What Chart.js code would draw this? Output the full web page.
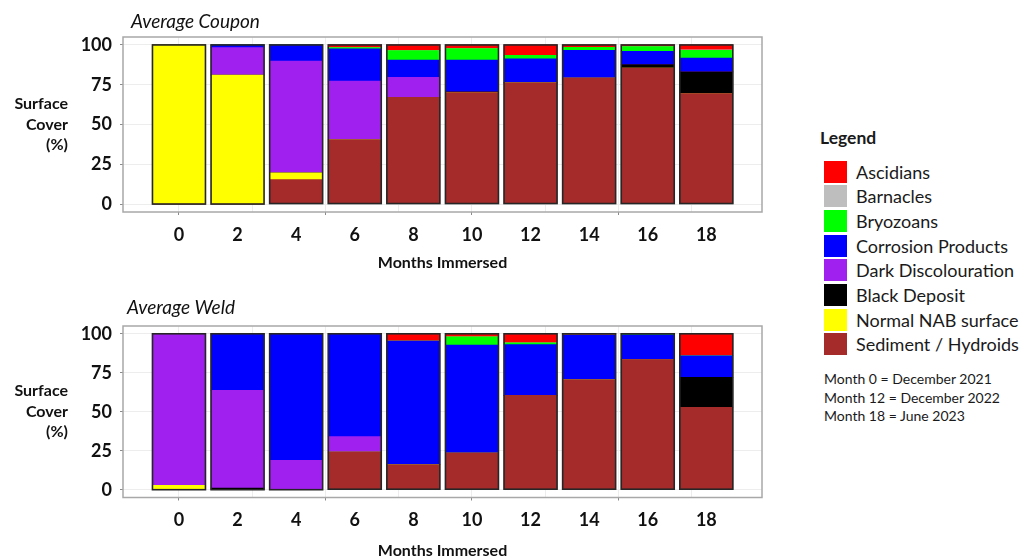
<!DOCTYPE html>
<html>
<head>
<meta charset="utf-8">
<title>Surface cover by months immersed</title>
<script src="https://cdn.jsdelivr.net/npm/chart.js@4.4.1/dist/chart.umd.min.js"></script>
<style>
  html, body { margin: 0; padding: 0; background: #fff; width: 1025px; height: 558px; overflow: hidden; }
  #wrap { position: relative; width: 1025px; height: 558px; font-family: Lato, "Open Sans", sans-serif; color: #1a1a1a; }
  canvas { position: absolute; left: 0; }
  #coupon { top: 0; }
  #weld { top: 280px; }
  .lg-title { position: absolute; left: 820px; top: 128px; font-size: 17.5px; font-weight: bold; line-height: 20px; }
  .lg-row { position: absolute; left: 824px; height: 22px; display: flex; align-items: center; }
  .lg-sw { width: 22.5px; height: 22px; display: inline-block; }
  .lg-lbl { margin-left: 9.5px; font-size: 18px; line-height: 22px; white-space: nowrap; }
  .lg-notes { position: absolute; left: 824px; top: 370px; font-size: 14px; line-height: 18.7px; white-space: nowrap; }
</style>
</head>
<body>
<div id="wrap">
  <canvas id="coupon" width="800" height="280"></canvas>
  <canvas id="weld" width="800" height="288"></canvas>
  <div id="legend"></div>
</div>
<script>
// Sampling months (x axis categories)
const months = [0, 2, 4, 6, 8, 10, 12, 14, 16, 18];

// Surface cover classes, in legend order (top of each column first)
const seriesNames = ['Ascidians', 'Barnacles', 'Bryozoans', 'Corrosion Products',
  'Dark Discolouration', 'Black Deposit', 'Normal NAB surface', 'Sediment / Hydroids'];
const seriesColors = ['#ff0000', '#bebebe', '#00ff00', '#0000ff',
  '#a020f0', '#000000', '#ffff00', '#a52a2a'];

// Y axis labelled ticks (percent cover)
const yTickLabels = [0, 25, 50, 75, 100];

const dateNotes = ['Month 0 = December 2021', 'Month 12 = December 2022', 'Month 18 = June 2023'];

// Average Coupon, % cover per month
const couponAscidians  = [0, 0, 0, 1.7, 3.6, 2.3, 6.5, 1.5, 1.1, 3.0];
const couponBarnacles  = [0, 0, 0, 0, 0, 0, 0, 0, 0, 0.4];
const couponBryozoans  = [0, 0, 0, 0.8, 5.9, 7.2, 2.2, 1.9, 2.9, 4.8];
const couponCorrosion  = [0, 1.7, 10.1, 20.2, 10.9, 20.0, 15.1, 17.4, 8.4, 8.7];
const couponDiscolour  = [0, 17.3, 70.3, 36.9, 12.6, 0, 0, 0, 0, 0];
const couponBlack      = [0, 0, 0, 0, 0, 0.5, 0, 0, 2.1, 13.6];
const couponNormal     = [100, 81, 4.3, 0, 0, 0, 0, 0, 0, 0];
const couponSediment   = [0, 0, 15.3, 40.4, 67, 70.0, 76.2, 79.2, 85.5, 69.5];

// Average Weld, % cover per month
const weldAscidians  = [0, 0, 0, 0, 4.7, 1.9, 5.8, 0.9, 0, 14.1];
const weldBarnacles  = [0, 0, 0, 0, 0, 0, 0, 0, 0, 0];
const weldBryozoans  = [0, 0, 0, 0, 0, 5.3, 1.1, 0, 0.7, 0];
const weldCorrosion  = [0, 36.3, 81.2, 66, 79.3, 69.3, 32.6, 28.6, 15.8, 13.9];
const weldDiscolour  = [97.2, 62.7, 18.8, 9.9, 0, 0, 0, 0, 0, 0];
const weldBlack      = [0, 1, 0, 0, 0, 0, 0, 0, 0, 19.2];
const weldNormal     = [2.8, 0, 0, 0, 0, 0, 0, 0, 0, 0];
const weldSediment   = [0, 0, 0, 24.1, 16, 23.5, 60.5, 70.5, 83.5, 52.8];

const couponSeries = [couponAscidians, couponBarnacles, couponBryozoans, couponCorrosion,
  couponDiscolour, couponBlack, couponNormal, couponSediment];
const weldSeries = [weldAscidians, weldBarnacles, weldBryozoans, weldCorrosion,
  weldDiscolour, weldBlack, weldNormal, weldSediment];

Chart.defaults.font.family = 'Lato, "Open Sans", sans-serif';
Chart.defaults.color = '#111';

// Frame, column outlines, panel caption and the horizontal y-axis title
const panelDecor = {
  id: 'panelDecor',
  beforeDatasetsDraw(chart) {
    const { ctx, chartArea: a } = chart;
    ctx.save();
    ctx.strokeStyle = '#a8a8a8';
    ctx.lineWidth = 1.5;
    ctx.strokeRect(a.left, a.top, a.right - a.left, a.bottom - a.top);
    ctx.restore();
  },
  afterDatasetsDraw(chart) {
    const { ctx } = chart;
    const metas = chart.getSortedVisibleDatasetMetas();
    ctx.save();
    ctx.strokeStyle = '#262626';
    ctx.lineWidth = 1.6;
    for (let i = 0; i < months.length; i++) {
      let left = Infinity, right = -Infinity, top = Infinity, bottom = -Infinity;
      metas.forEach(meta => {
        const el = meta.data[i];
        if (!el) return;
        const p = el.getProps(['x', 'y', 'base', 'width'], true);
        left = Math.min(left, p.x - p.width / 2);
        right = Math.max(right, p.x + p.width / 2);
        top = Math.min(top, p.y, p.base);
        bottom = Math.max(bottom, p.y, p.base);
      });
      if (isFinite(left)) ctx.strokeRect(left, top, right - left, bottom - top);
    }
    ctx.restore();
  },
  afterDraw(chart, args, opts) {
    const { ctx, chartArea: a } = chart;
    ctx.save();
    ctx.fillStyle = '#111';
    ctx.textBaseline = 'middle';
    ctx.font = 'italic 19px Lato, "Open Sans", sans-serif';
    ctx.textAlign = 'left';
    ctx.fillText(opts.caption, opts.captionX, opts.captionY);
    ctx.font = 'bold 16px Lato, "Open Sans", sans-serif';
    ctx.textAlign = 'right';
    const mid = (a.top + a.bottom) / 2;
    const lines = ['Surface', 'Cover', '(%)'];
    lines.forEach((t, k) => ctx.fillText(t, 68, mid + (k - 1) * 20.5));
    ctx.restore();
  }
};

function makePanel(canvasId, caption, seriesData, g) {
  const xMin = -1.91, xMax = 19.9;
  // stack from the bottom: Sediment first, Ascidians last
  const datasets = [];
  for (let k = seriesNames.length - 1; k >= 0; k--) {
    datasets.push({
      label: seriesNames[k],
      data: months.map((m, i) => ({ x: m, y: seriesData[k][i] })),
      backgroundColor: seriesColors[k],
      borderWidth: 0,
      barThickness: 53
    });
  }
  return new Chart(document.getElementById(canvasId), {
    type: 'bar',
    data: { datasets },
    plugins: [panelDecor],
    options: {
      responsive: false,
      animation: false,
      events: [],
      layout: { padding: { left: 0, top: g.top, right: 800 - g.right, bottom: 0 } },
      plugins: {
        legend: { display: false },
        tooltip: { enabled: false },
        panelDecor: { caption, captionX: g.captionX, captionY: g.captionY }
      },
      scales: {
        x: {
          type: 'linear', position: 'bottom', stacked: true, min: xMin, max: xMax, weight: 1,
          offset: false,
          afterBuildTicks: s => { s.ticks = months.map(v => ({ value: v })); },
          afterFit: s => { s.height = g.canvasH - g.bottom; },
          grid: { display: false, drawTicks: false, offset: false },
          border: { display: false },
          ticks: {
            autoSkip: false, maxRotation: 0, padding: 12,
            font: { size: 18, weight: 'bold' }, color: '#111',
            callback: v => String(v)
          },
          title: {
            display: true, text: 'Months Immersed', color: '#111',
            font: { size: 16, weight: 'bold' }, padding: { top: 0, bottom: g.titlePad }
          }
        },
        xg: {
          type: 'linear', position: 'bottom', min: xMin, max: xMax, weight: 0,
          offset: false,
          afterBuildTicks: s => {
            const t = [];
            for (let v = 0; v < xMax; v += 2.5) t.push({ value: v });
            s.ticks = t;
          },
          afterFit: s => { s.height = 0; },
          ticks: { display: false },
          grid: {
            offset: false,
            color: '#ededed', lineWidth: 1, tickLength: 3,
            tickColor: c => (c.tick && c.tick.value % 5 === 0) ? '#8a8a8a' : 'rgba(0,0,0,0)'
          },
          border: { display: false }
        },
        y: {
          stacked: true, min: -5, max: 105,
          afterBuildTicks: s => {
            const t = [];
            for (let v = 0; v <= 100; v += 12.5) t.push({ value: v });
            s.ticks = t;
          },
          afterFit: s => { s.width = g.left; },
          grid: {
            color: '#ededed', lineWidth: 1, tickLength: 3,
            tickColor: c => (c.tick && c.tick.value % 25 === 0) ? '#8a8a8a' : 'rgba(0,0,0,0)'
          },
          border: { display: false },
          ticks: {
            padding: 8, font: { size: 18, weight: 'bold' }, color: '#111',
            callback: v => yTickLabels.includes(v) ? String(v) : ''
          }
        }
      }
    }
  });
}

makePanel('coupon', 'Average Coupon', couponSeries,
  { left: 123, right: 762, top: 37, bottom: 212, canvasH: 280, captionX: 131, captionY: 22, titlePad: 8 });
makePanel('weld', 'Average Weld', weldSeries,
  { left: 123, right: 762, top: 46, bottom: 217.5, canvasH: 288, captionX: 127, captionY: 28, titlePad: 8 });

// Shared legend and date notes
const legend = document.getElementById('legend');
let html = '<div class="lg-title">Legend</div>';
seriesNames.forEach((name, i) => {
  html += '<div class="lg-row" style="top:' + (160.7 + i * 24.66).toFixed(1) + 'px">' +
    '<span class="lg-sw" style="background:' + seriesColors[i] + '"></span>' +
    '<span class="lg-lbl">' + name + '</span></div>';
});
html += '<div class="lg-notes">' + dateNotes.join('<br>') + '</div>';
legend.innerHTML = html;
</script>
</body>
</html>
